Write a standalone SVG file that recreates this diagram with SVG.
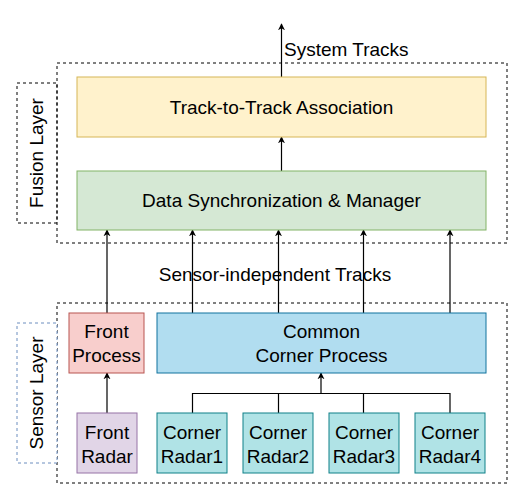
<svg xmlns="http://www.w3.org/2000/svg" width="523" height="500" viewBox="0 0 523 500">
<style>
text{font-family:"Liberation Sans",Arial,sans-serif;font-size:19px;fill:#000;text-anchor:middle;dominant-baseline:central}
.dash{fill:none;stroke:#000;stroke-width:1;stroke-dasharray:3 3}
.conn{fill:none;stroke:#000;stroke-width:1.2}
</style>
<defs>
<marker id="ah" viewBox="0 0 10 10" refX="9" refY="5" markerWidth="7" markerHeight="8" orient="auto" markerUnits="userSpaceOnUse">
<path d="M0,0 L10,5 L0,10 L3,5 Z" fill="#000"/>
</marker>
</defs>
<rect width="523" height="500" fill="#fff"/>
<g id="fusion-layer">
<rect class="dash" x="57" y="63" width="450" height="180"/>
<rect class="dash" x="17" y="83" width="40" height="140" fill="#fff"/>
<text transform="translate(36,153) rotate(-90)">Fusion Layer</text>
</g>
<g id="sensor-layer">
<rect class="dash" x="57" y="303" width="450" height="180"/>
<rect x="17" y="323" width="40" height="140" fill="#fff" stroke="#6c8ebf" stroke-dasharray="3 3"/>
<text transform="translate(36,393) rotate(-90)">Sensor Layer</text>
</g>
<g id="connectors">
<line class="conn" x1="281.5" y1="77" x2="281.5" y2="24" marker-end="url(#ah)"/>
<line class="conn" x1="281.5" y1="171" x2="281.5" y2="137" marker-end="url(#ah)"/>
<line class="conn" x1="107" y1="313" x2="107" y2="230" marker-end="url(#ah)"/>
<line class="conn" x1="192.5" y1="313" x2="192.5" y2="230" marker-end="url(#ah)"/>
<line class="conn" x1="278.5" y1="313" x2="278.5" y2="230" marker-end="url(#ah)"/>
<line class="conn" x1="363.5" y1="313" x2="363.5" y2="230" marker-end="url(#ah)"/>
<line class="conn" x1="450" y1="313" x2="450" y2="230" marker-end="url(#ah)"/>
<line class="conn" x1="107" y1="413" x2="107" y2="373" marker-end="url(#ah)"/>
<path class="conn" d="M192.5,413 V393.5 H450 V413 M278.5,413 V393.5 M363.5,413 V393.5"/>
<line class="conn" x1="321" y1="393.5" x2="321" y2="373" marker-end="url(#ah)"/>
<text x="284" y="49" style="text-anchor:start">System Tracks</text>
<text x="275" y="274">Sensor-independent Tracks</text>
</g>
<g id="track-association">
<rect x="77" y="77" width="409" height="60" fill="#fff2cc" stroke="#d6b656"/>
<text x="281.5" y="107">Track-to-Track Association</text>
</g>
<g id="data-sync">
<rect x="77" y="171" width="409" height="59" fill="#d5e8d4" stroke="#82b366"/>
<text x="281.5" y="200.5">Data Synchronization &amp; Manager</text>
</g>
<g id="front-process">
<rect x="69" y="313" width="75" height="60" fill="#f8cecc" stroke="#b85450"/>
<text x="106.5" y="331.5">Front</text>
<text x="106.5" y="355.5">Process</text>
</g>
<g id="corner-process">
<rect x="157" y="313" width="329" height="60" fill="#b1ddf0" stroke="#10739e"/>
<text x="321.5" y="331.5">Common</text>
<text x="321.5" y="355.5">Corner Process</text>
</g>
<g id="front-radar">
<rect x="77" y="413" width="60" height="60" fill="#e1d5e7" stroke="#9673a6"/>
<text x="107" y="432.5">Front</text>
<text x="107" y="456">Radar</text>
</g>
<g id="corner-radar1">
<rect x="157" y="413" width="70" height="60" fill="#b0e3e6" stroke="#0e8088"/>
<text x="192" y="432.5">Corner</text>
<text x="192" y="456">Radar1</text>
</g>
<g id="corner-radar2">
<rect x="243" y="413" width="70" height="60" fill="#b0e3e6" stroke="#0e8088"/>
<text x="278" y="432.5">Corner</text>
<text x="278" y="456">Radar2</text>
</g>
<g id="corner-radar3">
<rect x="329" y="413" width="70" height="60" fill="#b0e3e6" stroke="#0e8088"/>
<text x="364" y="432.5">Corner</text>
<text x="364" y="456">Radar3</text>
</g>
<g id="corner-radar4">
<rect x="415" y="413" width="70" height="60" fill="#b0e3e6" stroke="#0e8088"/>
<text x="450" y="432.5">Corner</text>
<text x="450" y="456">Radar4</text>
</g>
</svg>
